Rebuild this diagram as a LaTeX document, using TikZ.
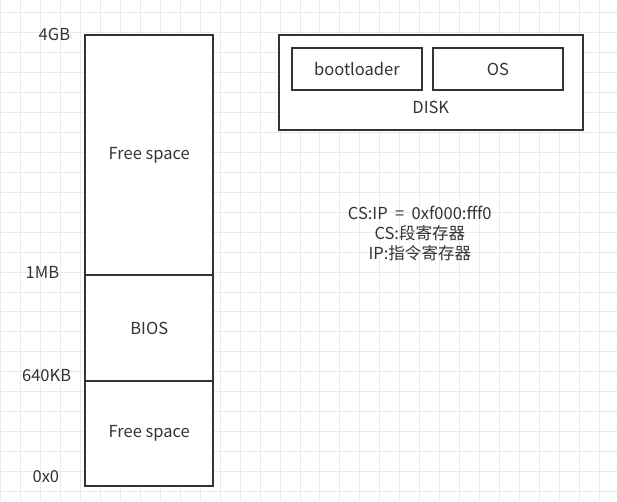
\documentclass[tikz,border=0pt]{standalone}
\usepackage{fontspec}
\setmainfont{Noto Sans CJK SC}
\usetikzlibrary{positioning}
\definecolor{ink}{HTML}{333333}
\definecolor{gridline}{HTML}{EAEAEA}

\begin{document}
\begin{tikzpicture}[
        x=0.75pt,y=-0.75pt,
        font=\fontsize{12.4}{15}\selectfont,
        text=ink,
        box/.style={draw=ink,line width=1.5pt,fill=white,outer sep=0pt,inner sep=0pt,align=center},
        mem/.style={box,minimum width=96pt},
        addr/.style={anchor=east,inner sep=0pt}
    ]
        % Background grid
        \fill[white] (0,0) rectangle (617,501);
        \foreach \gx in {0,20,...,600}
            \draw[gridline,line width=0.75pt] (\gx,0) -- (\gx,501);
        \foreach \gy in {12,32,...,492}
            \draw[gridline,line width=0.75pt] (0,\gy) -- (617,\gy);
        \useasboundingbox (0,0) rectangle (617,501);

        % Memory layout
        \node[mem,minimum height=180pt] (highfree) at (149,155) {Free space};
        \node[mem,minimum height=79.5pt,below=0pt of highfree] (bios) {BIOS};
        \node[mem,minimum height=78.75pt,below=0pt of bios] (lowfree) {Free space};

        % Addresses
        \node[addr] (a4gb) at (70,34) {4GB};
        \node[addr] (a1mb) at (59,272) {1MB};
        \node[addr] (a640kb) at (71,376) {640KB};
        \node[addr] (a0) at (59,477) {0x0};

        % Disk
        \node[box,minimum width=228pt,minimum height=71.25pt] (disk) at (431,82.5) {};
        \node[box,minimum width=97.5pt,minimum height=31.5pt] (boot) at (357,69) {bootloader};
        \node[box,minimum width=98pt,minimum height=31.5pt,right=8.25pt of boot] (os) {OS};
        \node (disklabel) at (431,107) {DISK};

        % Registers
        \node[align=center] (regs) at (420,233) {CS:IP~ =~ 0xf000:fff0\\CS:段寄存器\\IP:指令寄存器};
    \end{tikzpicture}
\end{document}
